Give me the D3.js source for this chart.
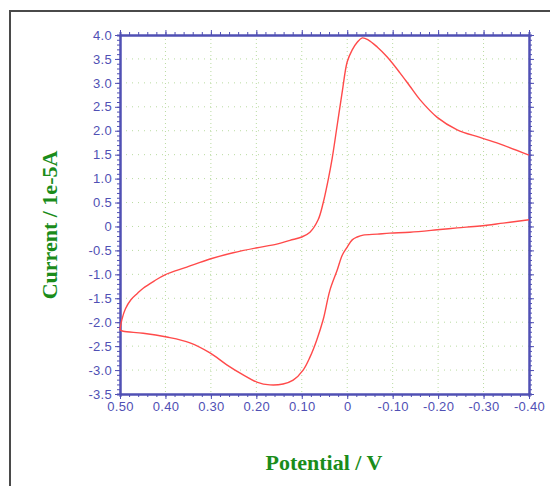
<!DOCTYPE html>
<html>
<head>
<meta charset="utf-8">
<script src="https://cdn.jsdelivr.net/npm/d3@7"></script>
<style>
  body { margin: 0; background: #ffffff; }
  svg { display: block; }
</style>
</head>
<body>
<div id="canvas-body"></div>
<script>
// voltammogram, forward scan (0.5 V -> -0.4 V)
var fwdPotential = [0.500, 0.496, 0.488, 0.476, 0.462, 0.449, 0.425, 0.401, 0.353, 0.302, 0.251, 0.201,
    0.155, 0.126, 0.100, 0.082, 0.064, 0.053, 0.042, 0.033, 0.022, 0.011, 0.000, -0.011, -0.022,
    -0.033, -0.046, -0.066, -0.088, -0.116, -0.138, -0.160, -0.198, -0.242, -0.292, -0.343, -0.400];
var fwdCurrent = [-2.16, -1.95, -1.72, -1.53, -1.40, -1.29, -1.14, -1.01, -0.85, -0.68, -0.55, -0.45,
    -0.37, -0.29, -0.22, -0.12, 0.14, 0.49, 0.97, 1.43, 2.12, 2.81, 3.44, 3.69, 3.85,
    3.94, 3.90, 3.75, 3.54, 3.21, 2.93, 2.65, 2.28, 2.02, 1.86, 1.70, 1.49];

// reverse scan (-0.4 V -> 0.5 V)
var revPotential = [-0.400, -0.343, -0.292, -0.242, -0.198, -0.138, -0.094, -0.066, -0.035, -0.022,
    -0.011, 0.000, 0.011, 0.022, 0.038, 0.053, 0.067, 0.082, 0.097, 0.119, 0.141, 0.170, 0.199,
    0.229, 0.265, 0.302, 0.346, 0.397, 0.449, 0.493, 0.500];
var revCurrent = [0.14, 0.07, 0.01, -0.03, -0.07, -0.12, -0.14, -0.16, -0.18, -0.22,
    -0.28, -0.43, -0.60, -0.91, -1.33, -1.95, -2.37, -2.73, -3.00, -3.21, -3.29, -3.31, -3.25,
    -3.10, -2.89, -2.64, -2.43, -2.31, -2.23, -2.19, -2.16];

// tick values and labels
var xTicks = [0.5, 0.4, 0.3, 0.2, 0.1, 0, -0.1, -0.2, -0.3, -0.4];
var xTickLabels = ["0.50", "0.40", "0.30", "0.20", "0.10", "0", "-0.10", "-0.20", "-0.30", "-0.40"];
var yTicks = [4, 3.5, 3, 2.5, 2, 1.5, 1, 0.5, 0, -0.5, -1, -1.5, -2, -2.5, -3, -3.5];
var yTickLabels = ["4.0", "3.5", "3.0", "2.5", "2.0", "1.5", "1.0", "0.5", "0", "-0.5", "-1.0",
    "-1.5", "-2.0", "-2.5", "-3.0", "-3.5"];

var xTitle = "Potential / V";
var yTitle = "Current / 1e-5A";

const W = 550, H = 486;
const plot = {left: 120, right: 529, top: 35, bottom: 394};
const axisColor = "#5050b4";
const gridColor = "#b9dba0";
const titleColor = "#1a8c1a";

var s = d3.select("#canvas-body").append("svg")
    .attr("width", W).attr("height", H);

// frame
s.append("rect").attr("x", 0).attr("y", 0).attr("width", W).attr("height", H).attr("fill", "#fff");
s.append("path")
    .attr("d", "M10," + H + "V11H" + W)
    .attr("fill", "none").attr("stroke", "#4a4a4a").attr("stroke-width", 2);

// scales
var x = d3.scaleLinear().domain([0.5, -0.4]).range([plot.left, plot.right]);
var y = d3.scaleLinear().domain([-3.5, 4]).range([plot.bottom, plot.top]);

// grid
var grid = s.append("g");
grid.selectAll(".vg").data(xTicks.slice(1, -1)).enter().append("line")
    .attr("x1", d => x(d)).attr("x2", d => x(d))
    .attr("y1", plot.top).attr("y2", plot.bottom)
    .attr("stroke", gridColor).attr("stroke-dasharray", "1,3");
grid.selectAll(".hg").data(yTicks.slice(1, -1)).enter().append("line")
    .attr("x1", plot.left).attr("x2", plot.right)
    .attr("y1", d => y(d)).attr("y2", d => y(d))
    .attr("stroke", gridColor).attr("stroke-dasharray", "1,5");

// minor tick positions
var xMinor = d3.range(0, 46).map(i => +(0.5 - i * 0.02).toFixed(2));
var yMinor = d3.range(0, 76).map(i => +(4 - i * 0.1).toFixed(1));

function styleAxis(g) {
    g.selectAll("path.domain").attr("stroke", axisColor).attr("stroke-width", 2);
    g.selectAll(".tick line").attr("stroke", axisColor).attr("stroke-width", 1);
    g.selectAll("text")
        .attr("fill", axisColor)
        .style("font-family", "'Liberation Sans', Arial, sans-serif")
        .style("font-size", "13px")
        .style("letter-spacing", "0.3px");
}

function addAxis(axisFn, scale, transform, minor, major, labels) {
    s.append("g").attr("transform", transform)
        .call(axisFn(scale).tickValues(minor).tickSize(3).tickFormat(""))
        .call(styleAxis);
    var a = axisFn(scale).tickValues(major).tickSize(5).tickSizeOuter(0);
    if (labels) a.tickFormat((d, i) => labels[i]); else a.tickFormat("");
    s.append("g").attr("transform", transform).call(a).call(styleAxis);
}

addAxis(d3.axisBottom, x, "translate(0," + plot.bottom + ")", xMinor, xTicks, xTickLabels);
addAxis(d3.axisTop, x, "translate(0," + plot.top + ")", xMinor, xTicks, null);
addAxis(d3.axisLeft, y, "translate(" + plot.left + ",0)", yMinor, yTicks, yTickLabels);
addAxis(d3.axisRight, y, "translate(" + plot.right + ",0)", yMinor, yTicks, null);

// curve
var line = d3.line().x(d => x(d[0])).y(d => y(d[1])).curve(d3.curveCatmullRom);
var fwd = fwdPotential.map((p, i) => [p, fwdCurrent[i]]);
var rev = revPotential.map((p, i) => [p, revCurrent[i]]);
s.append("path").attr("d", line(fwd))
    .attr("fill", "none").attr("stroke", "#ff4a4a").attr("stroke-width", 1.4);
s.append("path").attr("d", line(rev))
    .attr("fill", "none").attr("stroke", "#ff4a4a").attr("stroke-width", 1.4);

// titles
s.append("text")
    .attr("x", 324).attr("y", 470)
    .attr("text-anchor", "middle")
    .attr("fill", titleColor)
    .style("font-family", "'Liberation Serif', 'Times New Roman', serif")
    .style("font-weight", "bold").style("font-size", "22px")
    .text(xTitle);
s.append("text")
    .attr("transform", "translate(57,225) rotate(-90)")
    .attr("text-anchor", "middle")
    .attr("fill", titleColor)
    .style("font-family", "'Liberation Serif', 'Times New Roman', serif")
    .style("font-weight", "bold").style("font-size", "22px")
    .text(yTitle);
</script>
</body>
</html>
